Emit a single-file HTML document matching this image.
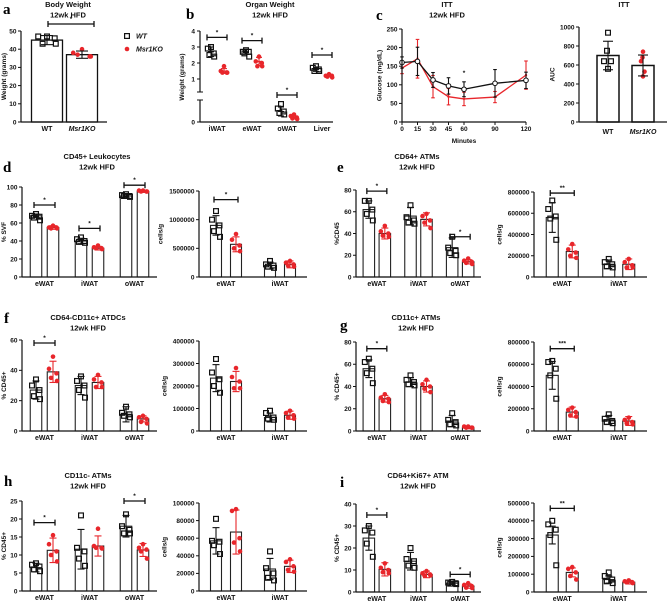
<!DOCTYPE html>
<html><head><meta charset="utf-8"><style>
body{margin:0;background:#fff;}
svg{display:block;font-family:"Liberation Sans",sans-serif;}
.tk{font-size:6.5px;font-weight:bold;fill:#111;}
.xl{font-size:7px;font-weight:bold;fill:#111;}
.tt{font-size:7.5px;font-weight:bold;fill:#111;}
.lt{font-family:"Liberation Serif",serif;font-size:15px;font-weight:bold;fill:#000;}
</style></head><body>
<svg id="fig" width="669" height="603" viewBox="0 0 669 603"></svg>
<script>
// ---------- DATA ----------
const catsThree=['eWAT','iWAT','oWAT'];
const catsTwo=['eWAT','iWAT'];
const groupsAB=['WT','Msr1KO'];
// a: body weight
const aMeans=[45,37];
const aErr=[2.5,2];
const aWTpts=[47,47,46,43,43];
const aKOpts=[40,38,36,37,36];
const aTicks=[0,10,20,30,40,50];
// b: organ weight
const bCats=['iWAT','eWAT','oWAT','Liver'];
const bWT=[2.7,2.7,0.35,1.6];
const bKO=[1.5,2.1,0.15,1.2];
const bWTerr=[0.3,0.15,0.15,0.12];
const bKOerr=[0.15,0.25,0.05,0.06];
const bWTpts=[[3.0,2.9,2.6,2.5,2.4],[2.8,2.7,2.7,2.6,2.4],[0.6,0.45,0.35,0.3,0.25],[1.8,1.7,1.6,1.5,1.5]];
const bKOpts=[[1.8,1.5,1.4,1.4,1.4],[2.4,2.1,2.0,1.8,1.8],[0.25,0.2,0.15,0.12,0.1],[1.3,1.2,1.2,1.15,1.1]];
const bSig=[3.6,3.4,0.9,2.5];
const bTicks=[0,1,2,3,4];
// c: ITT
const ittTimes=[0,15,30,45,60,90,120];
const ittWT=[160,163,113,97,88,104,112];
const ittKO=[145,170,95,68,62,67,126];
const ittWTerr=[15,38,20,22,20,37,22];
const ittKOerr=[15,52,30,22,18,15,38];
const ittYTicks=[0,50,100,150,200,250];
// c: AUC
const aucMeans=[700,595];
const aucErr=[150,110];
const aucWTpts=[940,750,640,640,560];
const aucKOpts=[740,680,640,530,480];
const aucTicks=[0,200,400,600,800,1000];
// d
const d1WT=[68,40,90], d1KO=[55,32,95], d1WTerr=[2,3,1.5], d1KOerr=[2,2,1];
const d1WTpts=[[70,68,67,66,63],[44,42,40,39,38],[92,91,90,90,89]];
const d1KOpts=[[57,55,55,54,54],[35,33,32,32,31],[96,96,95,95,95]];
const d1Ticks=[0,20,40,60,80,100];
const d2WT=[900000,200000], d2KO=[570000,220000], d2WTerr=[170000,60000], d2KOerr=[130000,60000];
const d2WTpts=[[1150000,1000000,900000,800000,700000],[280000,220000,200000,180000,160000]];
const d2KOpts=[[750000,650000,550000,500000,450000],[280000,250000,220000,200000,180000]];
const d2Ticks=[0,500000,1000000,1500000];
// e
const e1WT=[62,56,27], e1KO=[40,53,14], e1WTerr=[8,8,9], e1KOerr=[5,6,2];
const e1WTpts=[[70,70,62,58,52],[66,55,52,50,49],[37,27,24,22,20]];
const e1KOpts=[[47,42,40,38,37],[58,56,52,50,45],[17,15,14,13,12]];
const e1Ticks=[0,20,40,60,80];
const e2WT=[560000,120000], e2KO=[240000,120000], e2WTerr=[140000,40000], e2KOerr=[60000,50000];
const e2WTpts=[[720000,640000,570000,550000,350000],[170000,140000,120000,100000,90000]];
const e2KOpts=[[310000,260000,230000,200000,180000],[170000,140000,110000,90000,90000]];
const e2Ticks=[0,200000,400000,600000,800000];
// f
const f1WT=[27,30,11], f1KO=[39,32,8], f1WTerr=[6,6,5], f1KOerr=[7,4,2];
const f1WTpts=[[34,30,27,23,21],[36,33,30,27,22],[16,12,11,10,9]];
const f1KOpts=[[49,41,38,35,33],[37,34,32,29,29],[10,9,8,6,5]];
const f1Ticks=[0,20,40,60];
const f2WT=[235000,60000], f2KO=[220000,70000], f2WTerr=[60000,20000], f2KOerr=[45000,18000];
const f2WTpts=[[320000,260000,230000,200000,170000],[90000,80000,60000,55000,50000]];
const f2KOpts=[[280000,240000,220000,190000,190000],[90000,80000,70000,60000,55000]];
const f2Ticks=[0,100000,200000,300000,400000];
// g
const g1WT=[56,44,9], g1KO=[29,40,3], g1WTerr=[8,4,5], g1KOerr=[3,5,1];
const g1WTpts=[[65,62,56,52,43],[50,46,44,42,41],[16,10,8,6,5]];
const g1KOpts=[[33,30,29,27,26],[46,42,40,38,35],[4,4,3,3,3]];
const g1Ticks=[0,20,40,60,80];
const g2WT=[500000,100000], g2KO=[170000,90000], g2WTerr=[125000,40000], g2KOerr=[45000,40000];
const g2WTpts=[[630000,620000,560000,500000,290000],[150000,110000,90000,80000,70000]];
const g2KOpts=[[210000,190000,170000,140000,130000],[120000,100000,80000,70000,60000]];
const g2Ticks=[0,200000,400000,600000,800000];
// h
const h1WT=[6.5,11.6,18], h1KO=[11.3,12.5,11.4], h1WTerr=[1.2,5.5,3], h1KOerr=[3.4,2.8,1.8];
const h1WTpts=[[7.7,7.3,6.8,6,5.5],[21,12,11,9,7],[21.3,18,17,16,16]];
const h1KOpts=[[15.5,13,11,10,8.2],[17.3,12.5,12,12,11.8],[13,12,11.5,11,9]];
const h1Ticks=[0,5,10,15,20,25];
const h2WT=[57000,25000], h2KO=[67000,28000], h2WTerr=[15000,12000], h2KOerr=[25000,7000];
const h2WTpts=[[82000,57000,56000,52000,42000],[45000,26000,20000,15000,12000]];
const h2KOpts=[[93000,91000,60000,55000,45000],[36000,33000,28000,24000,22000]];
const h2Ticks=[0,20000,40000,60000,80000,100000];
// i
const i1WT=[24.5,14,4], i1KO=[10.3,8,2.7], i1WTerr=[5.5,4,0.5], i1KOerr=[3,1.5,1];
const i1WTpts=[[30,28,27,22,16],[20,15,14,12,11],[4.6,4.3,4,3.8,3.6]];
const i1KOpts=[[13,11,10,9,8.5],[9.5,8.5,8,7.5,7.5],[4,3.2,2.7,2,1.8]];
const i1Ticks=[0,10,20,30,40];
const i2WT=[320000,70000], i2KO=[110000,55000], i2WTerr=[50000,20000], i2KOerr=[25000,10000];
const i2WTpts=[[400000,380000,350000,320000,150000],[110000,90000,70000,60000,50000]];
const i2KOpts=[[140000,130000,110000,90000,70000],[65000,60000,55000,55000,50000]];
const i2Ticks=[0,100000,200000,300000,400000,500000];
// significance markers: [groupIndex, value, label]
const d1Sig=[[0,80,'*'],[1,54,'*'],[2,102,'*']];
const d2Sig=[[0,1350000,'*']];
const e1Sig=[[0,79,'*'],[2,37,'*']];
const e2Sig=[[0,790000,'**']];
const f1Sig=[[0,58,'*']];
const g1Sig=[[0,74,'*']];
const g2Sig=[[0,740000,'***']];
const h1Sig=[[0,19,'*'],[2,25,'*']];
const i1Sig=[[0,35,'*'],[2,8,'*']];
const i2Sig=[[0,470000,'**']];

// ---------- DRAWING ----------
const NS='http://www.w3.org/2000/svg';
const svg=document.getElementById('fig');
function mk(tag,attrs,parent){const e=document.createElementNS(NS,tag);for(const k in attrs)e.setAttribute(k,attrs[k]);(parent||svg).appendChild(e);return e;}
function txt(s,x,y,cls,anchor,parent){const t=mk('text',{x:x,y:y,class:cls,'text-anchor':anchor||'middle'},parent);t.textContent=s;return t;}
const RED='#e8262b';
const jit=[0,-4,3.5,-2,4];

function errBar(g,x,y0,y1,ym,col,w){
  const l=mk('line',{x1:x,x2:x,y1:y0,y2:y1,stroke:col,'stroke-width':1.1},g);
  
  
  mk('line',{x1:x-w,x2:x+w,y1:y0,y2:y0,stroke:col,'stroke-width':1.1},g);
  mk('line',{x1:x-w,x2:x+w,y1:y1,y2:y1,stroke:col,'stroke-width':1.1},g);
  if(ym!==null)mk('line',{x1:x-w,x2:x+w,y1:ym,y2:ym,stroke:col,'stroke-width':1.1},g);
}
function wtPoint(g,x,y){const r=mk('rect',{x:x-2.4,y:y-2.4,width:4.8,height:4.8,fill:'none',stroke:'#111','stroke-width':1.2},g);
  
  }
function koPoint(g,x,y){const c=mk('circle',{cx:x,cy:y,r:2.3,fill:RED},g);
  
  }
function sigMark(g,xa,xb,y,label){
  mk('line',{x1:xa,x2:xb,y1:y,y2:y,stroke:'#111','stroke-width':1.3},g);
  mk('line',{x1:xa,x2:xa,y1:y-3,y2:y+3,stroke:'#111','stroke-width':1.3},g);
  mk('line',{x1:xb,x2:xb,y1:y-3,y2:y+3,stroke:'#111','stroke-width':1.3},g);
  const t=txt(label,(xa+xb)/2,y-3,'tk','middle',g);
  
  
}
function yAxis(g,x0,yTop,yBot,ticks,yf,ytitle,fmt){
  const a=mk('line',{x1:x0,x2:x0,y1:yTop,y2:yBot,stroke:'#111','stroke-width':1.2},g);
  
  
  let maxc=0;
  ticks.forEach(v=>{const y=yf(v);mk('line',{x1:x0-3,x2:x0,y1:y,y2:y,stroke:'#111','stroke-width':1},g);
    const s=fmt?fmt(v):String(v);maxc=Math.max(maxc,s.length);
    const t=txt(s,x0-4.5,y+2.3,'tk','end',g);
    
    });
  const tx=Math.max(6,x0-maxc*3.9-9), ty=(yTop+yBot)/2;
  const t=mk('text',{x:tx,y:ty,class:'tk','text-anchor':'middle',transform:`rotate(-90 ${tx} ${ty})`},g);
  t.textContent=ytitle;
  
  
}
function barPanel(name,L,cats,wt,ko,wtE,koE,wtP,koP,ticks,ytitle,sig){
  const g=mk('g',{});
  
  
  const max=ticks[ticks.length-1];
  const yf=v=>L.yBot-(v/max)*(L.yBot-L.yTop);
  const n=cats.length, step=(L.x1-L.x0)/n;
  const cx=i=>L.x0+(i+0.5)*step;
  const off=L.off||8.5, bw=L.bw||11.5;
  cats.forEach((c,i)=>{
    [[wt,wtE,wtP,-1,'#111'],[ko,koE,koP,1,RED]].forEach(([m,e,p,s,col])=>{
      const x=cx(i)+s*off;
      const b=mk('rect',{x:x-bw/2,y:yf(m[i]),width:bw,height:L.yBot-yf(m[i]),fill:'#fff',stroke:'#222','stroke-width':1.1},g);
      
      
      p[i].forEach((v,k)=>{ if(s<0)wtPoint(g,x+jit[k],yf(v)); else koPoint(g,x+jit[k],yf(v)); });
      errBar(g,x,yf(m[i]+e[i]),yf(Math.max(0,m[i]-e[i])),null,col,3.5);
    });
    const t=txt(c,cx(i),L.yBot+9,'xl','middle',g);
    
    
  });
  const xa=mk('line',{x1:L.x0,x2:L.x1,y1:L.yBot,y2:L.yBot,stroke:'#111','stroke-width':1.2},g);
  
  
  yAxis(g,L.x0,L.yTop,L.yBot,ticks,yf,ytitle);
  (sig||[]).forEach(([gi,v,lab])=>sigMark(g,cx(gi)-off-2,cx(gi)+off+2,yf(v),lab));
}
function label(s,x,y,name){const t=txt(s,x,y,'lt','start');
  
  }
function title(lines,x,y,name){lines.forEach((s,k)=>{const t=txt(s,x,y+k*10.5,'tt','middle');
  
  });}

// ----- panel a -----
(function(){
  const g=mk('g',{});
  
  
  const x0=21,x1=107,yTop=31,yBot=122,max=50;
  const yf=v=>yBot-v/max*(yBot-yTop);
  const cxs=[47,82];
  groupsAB.forEach((gname,i)=>{
    const b=mk('rect',{x:cxs[i]-15.5,y:yf(aMeans[i]),width:31,height:yBot-yf(aMeans[i]),fill:'#fff',stroke:'#111','stroke-width':1.3},g);
    
    
    const pts=i?aKOpts:aWTpts;
    pts.forEach((v,k)=>{ if(i)koPoint(g,cxs[i]+jit[k]*2.2,yf(v)); else wtPoint(g,cxs[i]+jit[k]*2.2,yf(v)); });
    errBar(g,cxs[i],yf(aMeans[i]+aErr[i]),yf(aMeans[i]-aErr[i]),null,'#111',6);
    const t=txt(gname,cxs[i],131,'xl','middle',g); if(i)t.setAttribute('font-style','italic');
  });
  mk('line',{x1:x0,x2:x1,y1:yBot,y2:yBot,stroke:'#111','stroke-width':1.2},g);
  yAxis(g,x0,yTop,yBot,aTicks,yf,'Weight (grams)');
  sigMark(g,48,94,24,'*');
})();
title(['Body Weight','12wk HFD'],68,7,'panel-a-title');
label('a',3,14,'panel-label-a');
// legend
(function(){
  const g=mk('g',{});
  
  
  wtPoint(g,127,36); koPoint(g,127,49);
  const t1=txt('WT',136,38.5,'xl','start',g); t1.setAttribute('font-style','italic'); t1.setAttribute('font-weight','normal');
  
  
  const t2=txt('Msr1KO',136,51.5,'xl','start',g); t2.setAttribute('font-style','italic'); t2.setAttribute('font-weight','normal');
  
  
})();

// ----- panel b -----
(function(){
  const g=mk('g',{});
  
  
  const x0=200,x1=333;
  const yf=v=>v>=1?79-(v-1)*16:122-v*30;
  const cx=i=>x0+17+i*35;
  bCats.forEach((c,i)=>{
    const xw=cx(i)-6, xk=cx(i)+7;
    bWTpts[i].forEach((v,k)=>wtPoint(g,xw+jit[k]*0.8,yf(v)));
    bKOpts[i].forEach((v,k)=>koPoint(g,xk+jit[k]*0.8,yf(v)));
    errBar(g,xw,yf(bWT[i]+bWTerr[i]),yf(bWT[i]-bWTerr[i]),yf(bWT[i]),'#111',3);
    errBar(g,xk,yf(bKO[i]+bKOerr[i]),yf(bKO[i]-bKOerr[i]),yf(bKO[i]),RED,3);
    const t=txt(c,cx(i),131,'xl','middle',g);
    
    
    sigMark(g,cx(i)-10,cx(i)+10,yf(bSig[i]),'*');
  });
  mk('line',{x1:x0,x2:x1,y1:122,y2:122,stroke:'#111','stroke-width':1.2},g);
  mk('line',{x1:x0,x2:x0,y1:31,y2:92,stroke:'#111','stroke-width':1.2},g);
  mk('line',{x1:x0-3,x2:x0+3,y1:92,y2:92,stroke:'#111','stroke-width':1},g);
  mk('line',{x1:x0-3,x2:x0+3,y1:100,y2:100,stroke:'#111','stroke-width':1},g);
  mk('line',{x1:x0,x2:x0,y1:100,y2:122,stroke:'#111','stroke-width':1.2},g);
  bTicks.forEach(v=>{const y=yf(v);mk('line',{x1:x0-3,x2:x0,y1:y,y2:y,stroke:'#111'},g);txt(String(v),x0-5,y+2.3,'tk','end',g);});
  const t=mk('text',{x:184,y:77,class:'tk','text-anchor':'middle',transform:'rotate(-90 184 77)'},g);t.textContent='Weight (grams)';
})();
title(['Organ Weight','12wk HFD'],270,7,'panel-b-title');
label('b',186,19,'panel-label-b');

// ----- panel c: ITT line -----
(function(){
  const g=mk('g',{});
  
  
  const x0=402,x1=526,yTop=29,yBot=122,max=250;
  const xf=t=>x0+t/120*(x1-x0);
  const yf=v=>yBot-v/max*(yBot-yTop);
  [[ittKO,ittKOerr,RED,'ko'],[ittWT,ittWTerr,'#111','wt']].forEach(([d,e,col,nm])=>{
    ittTimes.forEach((t,i)=>errBar(g,xf(t),yf(d[i]+e[i]),yf(d[i]-e[i]),null,col,1.8));
    const p=mk('polyline',{points:ittTimes.map((t,i)=>xf(t)+','+yf(d[i])).join(' '),fill:'none',stroke:col,'stroke-width':1.3},g);
    
    
    ittTimes.forEach((t,i)=>{ if(nm==='wt'){mk('circle',{cx:xf(t),cy:yf(d[i]),r:2.3,fill:'#fff',stroke:'#111','stroke-width':1},g);} else mk('circle',{cx:xf(t),cy:yf(d[i]),r:1.2,fill:col},g);});
  });
  mk('line',{x1:x0,x2:x1,y1:yBot,y2:yBot,stroke:'#111','stroke-width':1.2},g);
  ittTimes.forEach(t=>{mk('line',{x1:xf(t),x2:xf(t),y1:yBot,y2:yBot+3,stroke:'#111'},g);
    const s=txt(String(t),xf(t),yBot+9,'tk','middle',g);
    
    });
  yAxis(g,x0,yTop,yBot,ittYTicks,yf,'Glucose (mg/dL)');
  txt('*',xf(60),75,'tk','middle',g);
  const m=txt('Minutes',464,143,'tk','middle',g);
  
  
})();
title(['ITT','12wk HFD'],447,7,'panel-c-title');
label('c',376,20,'panel-label-c');

// ----- ITT AUC -----
(function(){
  const g=mk('g',{});
  
  
  const x0=579,x1=667,yTop=27,yBot=122,max=1000;
  const yf=v=>yBot-v/max*(yBot-yTop);
  const cxs=[608,643];
  groupsAB.forEach((gname,i)=>{
    const b=mk('rect',{x:cxs[i]-11,y:yf(aucMeans[i]),width:22,height:yBot-yf(aucMeans[i]),fill:'#fff',stroke:'#111','stroke-width':1.5},g);
    
    
    const pts=i?aucKOpts:aucWTpts;
    const jx=[0,-1,-4,3,0];
    pts.forEach((v,k)=>{ if(i)koPoint(g,cxs[i]+jx[k]*0.5,yf(v)); else wtPoint(g,cxs[i]+jx[k],yf(v)); });
    errBar(g,cxs[i],yf(aucMeans[i]+aucErr[i]),yf(aucMeans[i]-aucErr[i]),null,'#111',5);
    const t=txt(gname,cxs[i],134,'xl','middle',g); if(i)t.setAttribute('font-style','italic');
  });
  mk('line',{x1:x0,x2:x1,y1:yBot,y2:yBot,stroke:'#111','stroke-width':1.2},g);
  yAxis(g,x0,yTop,yBot,aucTicks,yf,'AUC');
})();
title(['ITT'],624,7,'panel-c-auc-title');

// ----- rows d..i -----
const LL={x0:22,x1:157}, LR={x0:199,x1:307,off:10,bw:11}, RL={x0:356,x1:481,off:8}, RR={x0:534,x1:647,off:10,bw:12};
barPanel('panel-d-percent',Object.assign({yTop:187,yBot:277},LL),catsThree,d1WT,d1KO,d1WTerr,d1KOerr,d1WTpts,d1KOpts,d1Ticks,'% SVF',d1Sig);
barPanel('panel-d-cells',Object.assign({yTop:191,yBot:277},LR),catsTwo,d2WT,d2KO,d2WTerr,d2KOerr,d2WTpts,d2KOpts,d2Ticks,'cells/g',d2Sig);
barPanel('panel-e-percent',Object.assign({yTop:190,yBot:277},RL),catsThree,e1WT,e1KO,e1WTerr,e1KOerr,e1WTpts,e1KOpts,e1Ticks,'%CD45',e1Sig);
barPanel('panel-e-cells',Object.assign({yTop:192,yBot:277},RR),catsTwo,e2WT,e2KO,e2WTerr,e2KOerr,e2WTpts,e2KOpts,e2Ticks,'cells/g',e2Sig);
barPanel('panel-f-percent',Object.assign({yTop:340,yBot:431},LL),catsThree,f1WT,f1KO,f1WTerr,f1KOerr,f1WTpts,f1KOpts,f1Ticks,'% CD45+',f1Sig);
barPanel('panel-f-cells',Object.assign({yTop:341,yBot:431},LR),catsTwo,f2WT,f2KO,f2WTerr,f2KOerr,f2WTpts,f2KOpts,f2Ticks,'cells/g',[]);
barPanel('panel-g-percent',Object.assign({yTop:342,yBot:431},RL),catsThree,g1WT,g1KO,g1WTerr,g1KOerr,g1WTpts,g1KOpts,g1Ticks,'% CD45+',g1Sig);
barPanel('panel-g-cells',Object.assign({yTop:342,yBot:431},RR),catsTwo,g2WT,g2KO,g2WTerr,g2KOerr,g2WTpts,g2KOpts,g2Ticks,'cells/g',g2Sig);
barPanel('panel-h-percent',Object.assign({yTop:501,yBot:591},LL),catsThree,h1WT,h1KO,h1WTerr,h1KOerr,h1WTpts,h1KOpts,h1Ticks,'% CD45+',h1Sig);
barPanel('panel-h-cells',Object.assign({yTop:503,yBot:591},LR),catsTwo,h2WT,h2KO,h2WTerr,h2KOerr,h2WTpts,h2KOpts,h2Ticks,'cells/g',[]);
barPanel('panel-i-percent',Object.assign({yTop:504,yBot:592},RL),catsThree,i1WT,i1KO,i1WTerr,i1KOerr,i1WTpts,i1KOpts,i1Ticks,'% CD45+',i1Sig);
barPanel('panel-i-cells',Object.assign({yTop:503,yBot:592},RR),catsTwo,i2WT,i2KO,i2WTerr,i2KOerr,i2WTpts,i2KOpts,i2Ticks,'cells/g',i2Sig);

title(['CD45+ Leukocytes','12wk HFD'],97,159,'panel-d-title');
label('d',3,172,'panel-label-d');
title(['CD64+ ATMs','12wk HFD'],417,159,'panel-e-title');
label('e',337,172,'panel-label-e');
title(['CD64-CD11c+ ATDCs','12wk HFD'],88,320,'panel-f-title');
label('f',4,323,'panel-label-f');
title(['CD11c+ ATMs','12wk HFD'],416,320,'panel-g-title');
label('g',340,330,'panel-label-g');
title(['CD11c- ATMs','12wk HFD'],88,478,'panel-h-title');
label('h',4,486,'panel-label-h');
title(['CD64+Ki67+ ATM','12wk HFD'],418,478,'panel-i-title');
label('i',340,487,'panel-label-i');
</script>
</body></html>
